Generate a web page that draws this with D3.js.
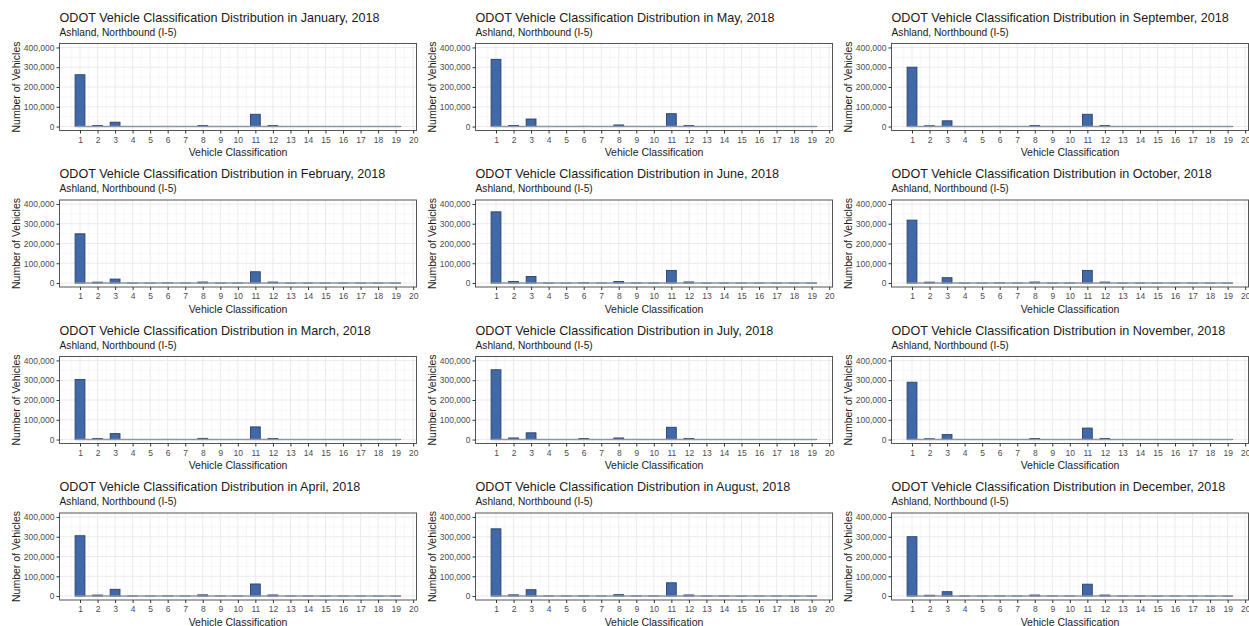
<!DOCTYPE html>
<html>
<head>
<meta charset="utf-8">
<script src="https://cdn.jsdelivr.net/npm/d3@7"></script>
<style>
  body { margin: 0; background: #fff; }
  svg { display: block; font-family: "Liberation Sans", Arial, sans-serif; }
</style>
</head>
<body>
<svg id="chart" width="1249" height="626"></svg>
<script>
// ---- data ----
const months = ["January","February","March","April","May","June","July","August","September","October","November","December"];
const classes = [1,2,3,4,5,6,7,8,9,10,11,12,13,14,15,16,17,18,19];
const xTickLabels = [1,2,3,4,5,6,7,8,9,10,11,12,13,14,15,16,17,18,19,20];
const yTickValues = [0,100000,200000,300000,400000];
const subtitle = "Ashland, Northbound (I-5)";
const xTitle = "Vehicle Classification";
const yTitle = "Number of Vehicles";
const year = 2018;

// counts per class 1..19 for each month
const jan = [262000,5000,22000,400,200,600,200,5000,500,400,62000,5000,200,150,100,100,100,100,100];
const feb = [249000,4500,20000,400,200,600,200,5000,500,400,57000,5000,200,150,100,100,100,100,100];
const mar = [304000,5000,30000,400,200,700,200,6000,500,400,64000,5500,200,150,100,100,100,100,100];
const apr = [305000,5000,34000,400,200,700,200,6000,500,400,61000,5500,200,150,100,100,100,100,100];
const may = [340000,5500,38000,500,200,900,200,8000,600,500,65000,5500,200,150,100,100,100,100,100];
const jun = [360000,8000,33000,500,300,1200,200,8000,600,500,64000,5500,200,150,100,100,100,100,100];
const jul = [353000,8000,34000,500,300,5000,200,8000,600,500,62000,5500,200,150,100,100,100,100,100];
const aug = [340000,6000,32000,500,300,1200,200,7000,600,500,67000,5500,200,150,100,100,100,100,100];
const sep = [300000,4000,29000,400,200,700,200,5000,500,400,62000,5000,200,150,100,100,100,100,100];
const oct = [318000,4500,27000,400,200,700,200,5000,500,400,64000,5000,200,150,100,100,100,100,100];
const nov = [290000,4000,25000,400,200,600,200,5000,500,400,58000,5000,200,150,100,100,100,100,100];
const dec = [300000,4000,22000,400,200,600,200,5000,500,400,60000,5000,200,150,100,100,100,100,100];
const monthValues = [jan,feb,mar,apr,may,jun,jul,aug,sep,oct,nov,dec];

// ---- layout ----
const cellW = 416, cellH = 156.5;
const pLeft = 59.5, pTop = 43.5, pW = 357, pH = 87;
const barWidth = 0.56;

const x = d3.scaleLinear().domain([-0.17, 20.19]).range([0, pW]);
const y = d3.scaleLinear().domain([-20000, 420000]).range([pH, 0]);
const fmt = d3.format(",");

const svg = d3.select("#chart");

months.forEach((m, i) => {
  const col = Math.floor(i / 4), row = i % 4;
  const g = svg.append("g").attr("transform", `translate(${col*cellW},${row*cellH})`);
  const vals = monthValues[i];

  g.append("text").attr("x", pLeft).attr("y", 21.5)
    .attr("font-size", 12.6).attr("fill", "#1a1a1a")
    .text(`ODOT Vehicle Classification Distribution in ${m}, ${year}`);
  g.append("text").attr("x", pLeft).attr("y", 35.5)
    .attr("font-size", 10.2).attr("fill", "#1a1a1a")
    .text(subtitle);

  const p = g.append("g").attr("transform", `translate(${pLeft},${pTop})`);
  p.append("rect").attr("width", pW).attr("height", pH).attr("fill", "#fff");

  // minor grid
  const xMinor = d3.range(0.5, 20.2, 1);
  p.selectAll(".xmin").data(xMinor).join("line")
    .attr("x1", d => x(d)).attr("x2", d => x(d)).attr("y1", 0).attr("y2", pH)
    .attr("stroke", "#f2f2f2").attr("stroke-width", 0.6);
  const yMinor = [50000,150000,250000,350000];
  p.selectAll(".ymin").data(yMinor).join("line")
    .attr("x1", 0).attr("x2", pW).attr("y1", d => y(d)).attr("y2", d => y(d))
    .attr("stroke", "#f2f2f2").attr("stroke-width", 0.6);
  // major grid
  p.selectAll(".xmaj").data(xTickLabels).join("line")
    .attr("x1", d => x(d)).attr("x2", d => x(d)).attr("y1", 0).attr("y2", pH)
    .attr("stroke", "#ebebeb").attr("stroke-width", 1);
  p.selectAll(".ymaj").data(yTickValues).join("line")
    .attr("x1", 0).attr("x2", pW).attr("y1", d => y(d)).attr("y2", d => y(d))
    .attr("stroke", "#ebebeb").attr("stroke-width", 1);

  // bars
  p.selectAll(".bar").data(classes.map((c, k) => ({c, v: vals[k]}))).join("rect")
    .attr("x", d => x(d.c - barWidth/2))
    .attr("width", x(barWidth) - x(0))
    .attr("y", d => y(d.v))
    .attr("height", d => y(0) - y(d.v))
    .attr("fill", "#4169a8").attr("stroke", "#2a4066").attr("stroke-width", 0.9);

  // baseline of the near-zero bars
  p.append("line")
    .attr("x1", x(classes[0] - barWidth/2)).attr("x2", x(classes[classes.length-1] + barWidth/2))
    .attr("y1", y(0)).attr("y2", y(0))
    .attr("stroke", "#8a97ab").attr("stroke-width", 1.6);

  // border
  p.append("rect").attr("width", pW).attr("height", pH)
    .attr("fill", "none").attr("stroke", "#555").attr("stroke-width", 1);

  // axes
  const xa = p.append("g").attr("transform", `translate(0,${pH})`)
    .call(d3.axisBottom(x).tickValues(xTickLabels).tickSize(3).tickPadding(3).tickFormat(d3.format("d")));
  const ya = p.append("g")
    .call(d3.axisLeft(y).tickValues(yTickValues).tickSize(3).tickPadding(2).tickFormat(fmt));
  [xa, ya].forEach(a => {
    a.select(".domain").remove();
    a.selectAll(".tick line").attr("stroke", "#333");
    a.selectAll(".tick text").attr("fill", "#4d4d4d").attr("font-size", 8.5)
      .attr("font-family", "Liberation Sans, Arial, sans-serif");
  });

  g.append("text").attr("x", pLeft + pW/2).attr("y", 156)
    .attr("text-anchor", "middle").attr("font-size", 10.5).attr("fill", "#1a1a1a")
    .text(xTitle);
  g.append("text")
    .attr("transform", `translate(20,${pTop + pH/2}) rotate(-90)`)
    .attr("text-anchor", "middle").attr("font-size", 10.5).attr("fill", "#1a1a1a")
    .text(yTitle);
});
</script>
</body>
</html>
